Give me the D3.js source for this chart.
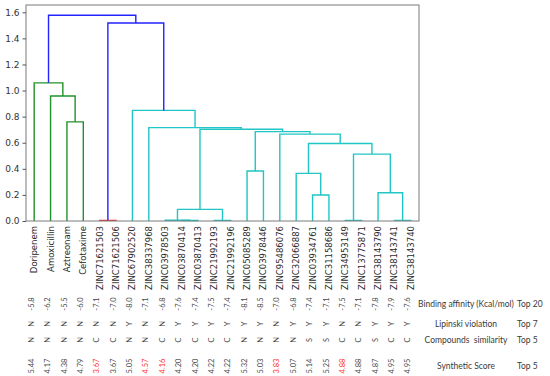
<!DOCTYPE html>
<html>
<head>
<meta charset="utf-8">
<script src="https://d3js.org/d3.v7.min.js"></script>
<style>
  body { margin: 0; background: #fff; }
  svg { display: block; }
</style>
</head>
<body>
<div id="chart"></div>
<script>
// leaves in dendrogram order
var leaves = ["Doripenem", "Amoxicillin", "Aztreonam", "Cefotaxime",
    "ZINC71621503", "ZINC71621506", "ZINC67902520", "ZINC38337968",
    "ZINC03978503", "ZINC03870414", "ZINC03870413", "ZINC21992193",
    "ZINC21992196", "ZINC05085289", "ZINC03978446", "ZINC95486076",
    "ZINC32066887", "ZINC03934761", "ZINC31158686", "ZINC34953149",
    "ZINC13775871", "ZINC38143790", "ZINC38143741", "ZINC38143740"];

// linkage: [child a, child b, height], new clusters numbered from 24 up
var merges = [
    [4, 5, 0.005], [9, 10, 0.004], [8, 25, 0.006], [11, 12, 0.005],
    [19, 20, 0.005], [22, 23, 0.005], [26, 27, 0.089], [17, 18, 0.199],
    [21, 29, 0.217], [16, 31, 0.365], [13, 14, 0.383], [28, 32, 0.513],
    [33, 35, 0.594], [15, 36, 0.666], [34, 37, 0.685], [30, 38, 0.703],
    [7, 39, 0.716], [2, 3, 0.760], [6, 40, 0.848], [1, 41, 0.958],
    [0, 43, 1.059], [24, 42, 1.518], [44, 45, 1.577]
];

var binding = ["-5.8", "-6.2", "-5.5", "-6.0", "-7.1", "-7.0", "-8.0", "-7.1",
    "-6.8", "-7.6", "-7.4", "-7.5", "-7.4", "-8.1", "-8.5", "-7.0",
    "-6.8", "-7.4", "-7.1", "-7.5", "-7.1", "-7.8", "-7.9", "-7.6"];
var lipinski = ["N", "N", "N", "N", "N", "N", "Y", "N", "N", "Y", "Y", "Y",
    "Y", "Y", "Y", "N", "Y", "Y", "Y", "N", "N", "Y", "Y", "Y"];
var similarity = ["N", "N", "N", "N", "C", "C", "N", "N", "C", "C", "C", "C",
    "C", "N", "N", "N", "N", "S", "S", "C", "C", "S", "C", "C"];
var synthetic = ["5.44", "4.17", "4.38", "4.79", "3.67", "3.67", "5.05", "4.57",
    "4.16", "4.20", "4.20", "4.22", "4.22", "5.32", "5.03", "3.83",
    "5.07", "5.14", "5.25", "4.88", "4.88", "4.87", "4.95", "4.95"];
var topSynthetic = ["ZINC71621503", "ZINC38337968", "ZINC03978503",
    "ZINC95486076", "ZINC34953149"];

var rowLabels = ["Binding affinity (Kcal/mol)", "Lipinski violation",
    "Compounds  similarity", "Synthetic Score"];
var rowTops = ["Top 20", "Top 7", "Top 5", "Top 5"];
var yTicks = [0, 0.2, 0.4, 0.6, 0.8, 1.0, 1.2, 1.4, 1.6];

var width = 550, height = 376;
var margin = { top: 5, left: 26, right: 131, bottom: 155 };

var svg = d3.select("#chart").append("svg")
    .attr("width", width)
    .attr("height", height);

var n = leaves.length;
var maxH = d3.max(merges, function (m) { return m[2]; });

// matplotlib style: leaves at 5, 15, 25 ...
var x = d3.scaleLinear()
    .domain([0, n * 10])
    .range([margin.left, width - margin.right]);
var y = d3.scaleLinear()
    .domain([0, maxH * 1.05])
    .range([height - margin.bottom, margin.top]);

// positions of every node
var nodes = leaves.map(function (d, i) {
    return { name: d, pos: 5 + i * 10, h: 0 };
});
merges.forEach(function (m) {
    nodes.push({ a: m[0], b: m[1], h: m[2], pos: (nodes[m[0]].pos + nodes[m[1]].pos) / 2 });
});

// colour clusters under 0.7 * max height like scipy does
var palette = ["#22922a", "#ff2a2a", "#22c5c5"];
var above = "#2323ff";
var threshold = 0.7 * maxH;
var k = 0;
function paint(i, col) {
    var nd = nodes[i];
    if (nd.a === undefined) return;
    if (!col && nd.h < threshold) col = palette[k++];
    nd.color = col || above;
    paint(nd.a, col);
    paint(nd.b, col);
}
paint(nodes.length - 1, null);

var links = nodes.filter(function (d) { return d.a !== undefined; });

svg.append("g").selectAll("path")
    .data(links)
    .enter().append("path")
    .attr("fill", "none")
    .attr("stroke", function (d) { return d.color; })
    .attr("stroke-width", 1.4)
    .attr("d", function (d) {
        var l = nodes[d.a], r = nodes[d.b];
        return "M" + x(l.pos) + "," + y(l.h)
            + "V" + y(d.h)
            + "H" + x(r.pos)
            + "V" + y(r.h);
    });

// frame
svg.append("rect")
    .attr("x", x(0))
    .attr("y", y(maxH * 1.05))
    .attr("width", x(n * 10) - x(0))
    .attr("height", y(0) - y(maxH * 1.05))
    .attr("fill", "none")
    .attr("stroke", "#7a7a7a")
    .attr("stroke-width", 1);

var yAxis = svg.append("g")
    .attr("transform", "translate(" + x(0) + ",0)")
    .call(d3.axisLeft(y).tickValues(yTicks).tickFormat(d3.format(".1f")).tickSize(3.5).tickPadding(3));
yAxis.select(".domain").remove();
yAxis.selectAll("line").attr("stroke", "#555");
yAxis.selectAll("text")
    .attr("fill", "#333")
    .style("font-family", "DejaVu Sans")
    .style("font-size", "9px");

// leaf labels
svg.append("g").selectAll("text")
    .data(nodes.slice(0, n))
    .enter().append("text")
    .attr("transform", function (d) {
        return "translate(" + x(d.pos) + "," + (y(0) + 5) + ") rotate(-90)";
    })
    .attr("dy", "0.35em")
    .attr("text-anchor", "end")
    .attr("fill", "#2b2b2b")
    .style("font-family", "DejaVu Sans")
    .style("font-size", "8.5px")
    .text(function (d) { return d.name; });

// table underneath
var rows = [binding, lipinski, similarity, synthetic];
var rowY = [304, 324, 340, 366];

rows.forEach(function (vals, r) {
    svg.append("g").selectAll("text")
        .data(vals)
        .enter().append("text")
        .attr("transform", function (d, i) {
            return "translate(" + (x(5 + i * 10) - 3) + "," + rowY[r] + ") rotate(-90)";
        })
        .attr("dy", "0.35em")
        .attr("text-anchor", "middle")
        .attr("fill", function (d, i) {
            return r == 3 && topSynthetic.indexOf(leaves[i]) >= 0 ? "#ff3030" : "#4a4a4a";
        })
        .style("font-family", "Lato")
        .style("font-size", "7.5px")
        .text(function (d) { return d; });
});

svg.append("g").selectAll("text")
    .data(rowLabels)
    .enter().append("text")
    .attr("x", 466)
    .attr("y", function (d, i) { return rowY[i]; })
    .attr("dy", "0.35em")
    .attr("text-anchor", "middle")
    .attr("fill", "#3a3a3a")
    .style("font-family", "Lato")
    .style("font-size", "8.5px")
    .style("white-space", "pre")
    .text(function (d) { return d; });

svg.append("g").selectAll("text")
    .data(rowTops)
    .enter().append("text")
    .attr("x", 517)
    .attr("y", function (d, i) { return rowY[i]; })
    .attr("dy", "0.35em")
    .attr("fill", "#3a3a3a")
    .style("font-family", "Lato")
    .style("font-size", "8.5px")
    .text(function (d) { return d; });
</script>
</body>
</html>
